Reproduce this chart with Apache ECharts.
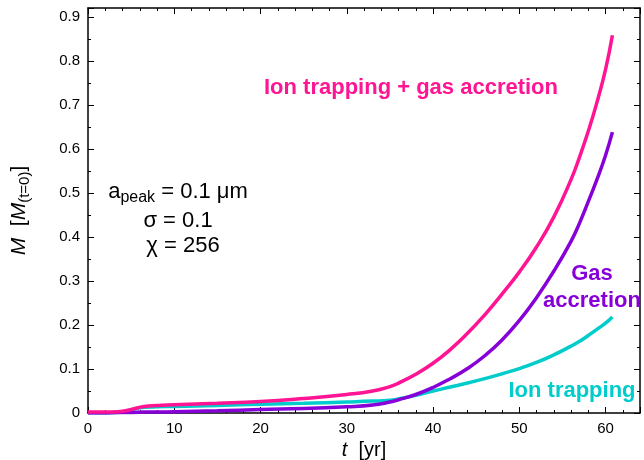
<!DOCTYPE html>
<html>
<head>
<meta charset="utf-8">
<script src="https://cdn.jsdelivr.net/npm/echarts@6/dist/echarts.min.js"></script>
<style>
  html, body { margin: 0; padding: 0; background: #fff; }
  #chart { width: 644px; height: 460px; }
</style>
</head>
<body>
<div id="chart"></div>
<script>
  // time axis (yr)
  var tYears = [0, 2, 3.5, 5, 6.5, 8, 10, 15, 20, 25, 30, 33, 35, 36, 38, 40, 42, 44, 46, 48, 50, 52, 54, 56, 57, 58, 59, 60, 60.8];

  // M / M(t=0)
  var ionGas = [0.002, 0.002, 0.003, 0.008, 0.015, 0.017, 0.019, 0.022, 0.026, 0.033, 0.042, 0.050, 0.060, 0.068, 0.088, 0.113, 0.144, 0.181, 0.223, 0.270, 0.320, 0.377, 0.445, 0.530, 0.582, 0.640, 0.705, 0.780, 0.858];
  var gasOnly = [0.0, 0.0, 0.001, 0.001, 0.002, 0.002, 0.003, 0.005, 0.008, 0.010, 0.014, 0.018, 0.025, 0.030, 0.042, 0.058, 0.078, 0.101, 0.130, 0.166, 0.210, 0.262, 0.322, 0.390, 0.432, 0.480, 0.530, 0.585, 0.638];
  var ionOnly = [0.0, 0.0, 0.001, 0.007, 0.013, 0.014, 0.015, 0.017, 0.020, 0.022, 0.025, 0.027, 0.029, 0.032, 0.040, 0.050, 0.059, 0.068, 0.078, 0.089, 0.101, 0.115, 0.132, 0.152, 0.163, 0.176, 0.190, 0.204, 0.218];

  function pairs(ys) {
    return tYears.map(function (t, i) { return [t, ys[i]]; });
  }

  var font = '"Liberation Sans", Arial, sans-serif';
  var chart = echarts.init(document.getElementById('chart'));

  var axisLine = { show: true, onZero: false, lineStyle: { color: '#000', width: 1.5 } };
  var axisTick = { show: true, inside: true, length: 6, lineStyle: { color: '#000' } };
  var xMinor = { show: true, splitNumber: 5, length: 3, lineStyle: { color: '#000' } };
  var yMinor = { show: true, splitNumber: 2, length: 3, lineStyle: { color: '#000' } };

  chart.setOption({
    animation: false,
    grid: { left: 88, right: 4, top: 8, bottom: 47, containLabel: false, outerBoundsMode: 'none' },
    xAxis: [
      {
        type: 'value', min: 0, max: 64, interval: 10,
        axisLine: axisLine, axisTick: axisTick, minorTick: xMinor, splitLine: { show: false },
        name: '{i|t}  [yr]',
        nameLocation: 'middle',
        nameGap: 23,
        nameTextStyle: { fontFamily: font, fontSize: 20, color: '#000', rich: { i: { fontStyle: 'italic', fontFamily: font, fontSize: 20 } } },
        axisLabel: { fontFamily: font, fontSize: 15, color: '#000', margin: 8, showMaxLabel: false }
      },
      {
        type: 'value', position: 'top', min: 0, max: 64, interval: 10,
        axisLine: axisLine, axisTick: axisTick, minorTick: xMinor, splitLine: { show: false },
        axisLabel: { show: false }
      }
    ],
    yAxis: [
      {
        type: 'value', min: 0, max: 0.92, interval: 0.1,
        axisLine: axisLine, axisTick: axisTick, minorTick: yMinor, splitLine: { show: false },
        name: '{i|M}  [{i|M}{s|(t=0)}]',
        nameLocation: 'middle',
        nameGap: 56,
        nameRotate: 90,
        nameTextStyle: {
          fontFamily: font, fontSize: 21, color: '#000',
          rich: {
            i: { fontStyle: 'italic', fontFamily: font, fontSize: 21 },
            s: { fontFamily: font, fontSize: 15, padding: [10, 0, 0, 0] }
          }
        },
        axisLabel: {
          fontFamily: font, fontSize: 15, color: '#000', margin: 8, showMaxLabel: false,
          formatter: function (v) { return v === 0 ? '0' : v.toFixed(1); }
        }
      },
      {
        type: 'value', position: 'right', min: 0, max: 0.92, interval: 0.1,
        axisLine: axisLine, axisTick: axisTick, minorTick: yMinor, splitLine: { show: false },
        axisLabel: { show: false }
      }
    ],
    series: [
      {
        name: 'Ion trapping', type: 'line', data: pairs(ionOnly), showSymbol: false,
        smooth: 0.5,
        lineStyle: { color: '#00cccc', width: 3.5 }
      },
      {
        name: 'Gas accretion', type: 'line', data: pairs(gasOnly), showSymbol: false,
        smooth: 0.5,
        lineStyle: { color: '#8800d8', width: 3.5 }
      },
      {
        name: 'Ion trapping + gas accretion', type: 'line', data: pairs(ionGas), showSymbol: false,
        smooth: 0.5,
        lineStyle: { color: '#ff1493', width: 3.5 }
      }
    ],
    graphic: [
      {
        type: 'text', x: 411, y: 88, z: 10,
        style: { text: 'Ion trapping + gas accretion', fill: '#ff1493', font: 'bold 22px ' + font, align: 'center', verticalAlign: 'middle' }
      },
      {
        type: 'text', x: 592, y: 287, z: 10,
        style: { text: 'Gas\naccretion', fill: '#8800d8', font: 'bold 22px ' + font, align: 'center', verticalAlign: 'middle', lineHeight: 27 }
      },
      {
        type: 'text', x: 572, y: 391, z: 10,
        style: { text: 'Ion trapping', fill: '#00cccc', font: 'bold 22px ' + font, align: 'center', verticalAlign: 'middle' }
      },
      {
        type: 'text', x: 178, y: 192, z: 10,
        style: {
          text: '{n|a}{s|peak}{n| = 0.1 μm}',
          align: 'center', verticalAlign: 'middle',
          rich: { n: { fontFamily: font, fontSize: 22, fill: '#000' }, s: { fontFamily: font, fontSize: 16, fill: '#000', padding: [12, 0, 0, 0] } }
        }
      },
      {
        type: 'text', x: 178, y: 221, z: 10,
        style: { text: 'σ = 0.1', fontFamily: font, fontSize: 22, fill: '#000', align: 'center', verticalAlign: 'middle' }
      },
      {
        type: 'text', x: 183, y: 246, z: 10,
        style: { text: 'χ = 256', fontFamily: font, fontSize: 22, fill: '#000', align: 'center', verticalAlign: 'middle' }
      }
    ]
  });
</script>
</body>
</html>
